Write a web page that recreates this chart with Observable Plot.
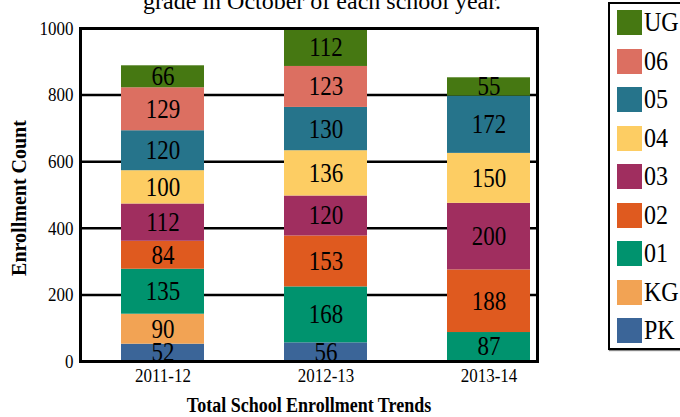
<!DOCTYPE html>
<html>
<head>
<meta charset="utf-8">
<script src="https://cdn.jsdelivr.net/npm/d3@7"></script>
<script src="https://cdn.jsdelivr.net/npm/@observablehq/plot@0.6"></script>
<style>
  html, body { margin: 0; padding: 0; background: #fff; overflow: hidden; }
  #wrap { position: relative; width: 680px; height: 417px; overflow: hidden; font-family: "Liberation Serif", "Times New Roman", serif; }
  #title { position: absolute; left: 0; top: -11px; width: 644px; text-align: center; font-size: 24px; line-height: 24px; color: #000; white-space: nowrap; }
  #legend { position: absolute; left: 608px; top: 2px; width: 90px; height: 344px; border: 2px solid #000; box-shadow: 1px 1px 1px #888; background: #fff; }
  .item { position: absolute; left: 7px; height: 25px; display: flex; align-items: center; }
  .sw { width: 25px; height: 25px; margin-right: 2px; }
  .lab { display: inline-block; font-size: 24px; line-height: 25px; color: #000; font-family: "Liberation Serif", "Times New Roman", serif; transform: scaleY(1.15); }
  svg { position: absolute; left: 0; top: 0; }
</style>
</head>
<body>
<div id="wrap">
  <div id="chart"></div>
  <div id="title">grade in October of each school year.</div>
  <div id="legend"></div>
</div>
<script>
const years = ["2011-12", "2012-13", "2013-14"];
const grades = ["PK", "KG", "01", "02", "03", "04", "05", "06", "UG"];
const colors = ["#3b6598", "#f2a354", "#00936e", "#df5a1f", "#a02e5f", "#fdcd63", "#26748b", "#dc6f61", "#467812"];
const PK  = [52, 56, 0];
const KG  = [90, 0, 0];
const G01 = [135, 168, 87];
const G02 = [84, 153, 188];
const G03 = [112, 120, 200];
const G04 = [100, 136, 150];
const G05 = [120, 130, 172];
const G06 = [129, 123, 0];
const UG  = [66, 112, 55];
const yTicks = [0, 200, 400, 600, 800, 1000];
const gridLines = [200, 400, 600, 800, 1000];
const legendOrder = ["UG", "06", "05", "04", "03", "02", "01", "KG", "PK"];

const series = [PK, KG, G01, G02, G03, G04, G05, G06, UG];
const rows = [];
grades.forEach((g, gi) => {
  years.forEach((yr, yi) => {
    const v = series[gi][yi];
    if (v > 0) rows.push({year: yr, grade: g, value: v});
  });
});

const font = '"Liberation Serif", "Times New Roman", serif';

const chart = Plot.plot({
  width: 680,
  height: 417,
  marginTop: 28,
  marginBottom: 56,
  marginLeft: 80,
  marginRight: 143,
  style: {fontFamily: font, fontSize: "17px", color: "#000", background: "transparent"},
  x: {domain: years, range: [41, 610], padding: 0.49, label: null},
  y: {domain: [0, 1000], label: null},
  color: {domain: grades, range: colors},
  marks: [
    Plot.ruleY(gridLines, {stroke: "#000", strokeWidth: 2.5}),
    Plot.barY(rows, {x: "year", y: "value", fill: "grade", order: grades}),
    Plot.text(rows, Plot.stackY({x: "year", y: "value", z: "grade", order: grades, text: d => String(d.value), fontSize: 23, fontFamily: font, fill: "#000", className: "stretch"})),
    Plot.frame({stroke: "#000", strokeWidth: 3}),
    Plot.axisY({ticks: yTicks, tickFormat: d => String(d), tickSize: 0, tickPadding: 7, label: null, fontSize: 17, fontFamily: font, className: "stretch"}),
    Plot.axisX({tickSize: 0, tickPadding: 7, label: null, fontSize: 17, fontFamily: font, className: "stretch"}),
    Plot.text(["Enrollment Count"], {frameAnchor: "left", textAnchor: "middle", dx: -61, dy: 3, rotate: -90, fontWeight: "bold", fontSize: 20, fontFamily: font}),
    Plot.text(["Total School Enrollment Trends"], {frameAnchor: "bottom", lineAnchor: "middle", dy: 44, fontWeight: "bold", fontSize: 18, fontFamily: font, className: "stretch"})
  ]
});
document.getElementById("chart").appendChild(chart);

// vertical stretch of text glyphs (about each text's anchor) to match the reference's tall lettering
chart.querySelectorAll(".stretch text").forEach(el => {
  const t = el.getAttribute("transform") || "";
  el.setAttribute("transform", `${t} scale(1,1.15)`);
});

const leg = document.getElementById("legend");
legendOrder.forEach((g, i) => {
  const it = document.createElement("div");
  it.className = "item";
  it.style.top = (6 + i * 38.5) + "px";
  const sw = document.createElement("div");
  sw.className = "sw";
  sw.style.background = colors[grades.indexOf(g)];
  const lb = document.createElement("span");
  lb.className = "lab";
  lb.textContent = g;
  it.appendChild(sw); it.appendChild(lb);
  leg.appendChild(it);
});
</script>
</body>
</html>
